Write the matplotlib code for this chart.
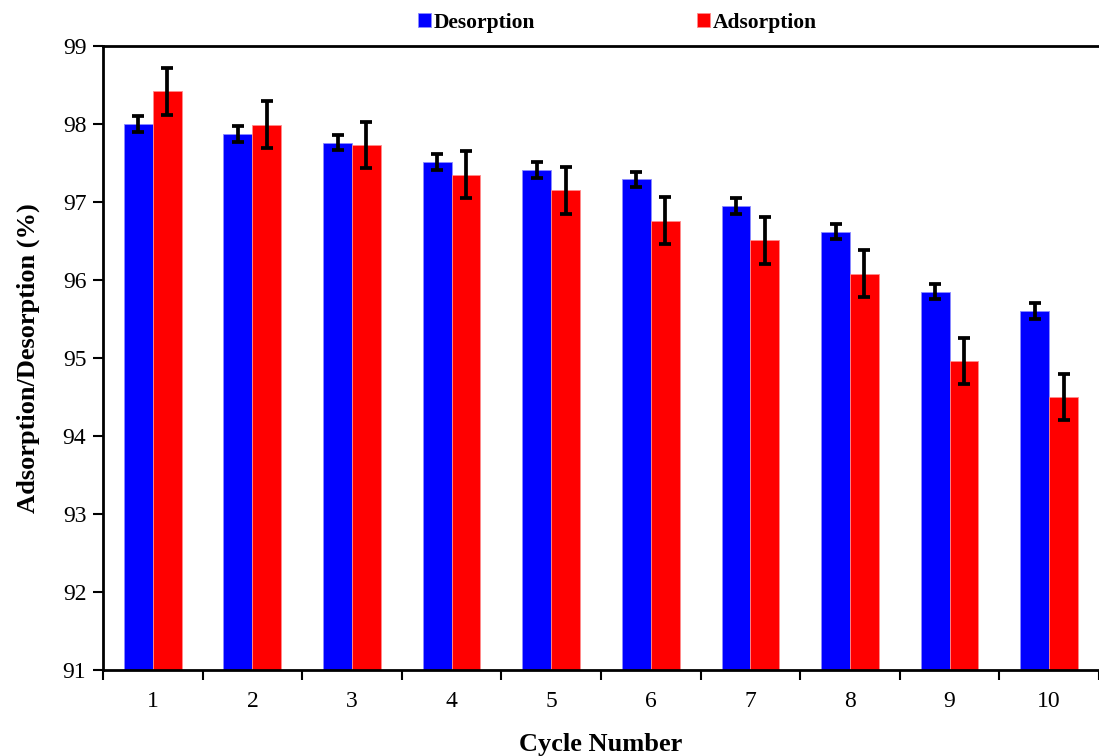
import matplotlib.pyplot as plt
import numpy as np

cycles = ["1", "2", "3", "4", "5", "6", "7", "8", "9", "10"]
desorption = [98.00, 97.87, 97.76, 97.51, 97.41, 97.29, 96.95, 96.62, 95.85, 95.60]
adsorption = [98.42, 97.99, 97.73, 97.35, 97.15, 96.76, 96.51, 96.08, 94.96, 94.50]
desorption_err = [0.1, 0.1, 0.1, 0.1, 0.1, 0.1, 0.1, 0.1, 0.1, 0.1]
adsorption_err = [0.3, 0.3, 0.3, 0.3, 0.3, 0.3, 0.3, 0.3, 0.29, 0.29]

plt.rcParams["font.family"] = ["Liberation Serif", "DejaVu Serif"]

fig = plt.figure(figsize=(10.99, 7.56), dpi=100)
ax = fig.add_axes([0.0937, 0.1138, 0.9063, 0.8254])

x = np.arange(1, len(cycles) + 1)
w = 0.29
err_kw = dict(ecolor="black", elinewidth=2.7, capsize=4.5, capthick=2.7)
ax.bar(x - w / 2, desorption, w, color="#0000ff", edgecolor="#8c8cff",
       linewidth=0.6, yerr=desorption_err, error_kw=err_kw, label="Desorption", zorder=2)
ax.bar(x + w / 2, adsorption, w, color="#ff0000", edgecolor="#ff8c8c",
       linewidth=0.6, yerr=adsorption_err, error_kw=err_kw, label="Adsorption", zorder=2)

ax.set_ylim(91, 99)
ax.set_xlim(0.5, len(cycles) + 0.5)
ax.set_yticks(np.arange(91, 100, 1))
ax.set_xticks(x)
ax.set_xticklabels(cycles)
ax.set_xticks(np.arange(0.5, len(cycles) + 1, 1), minor=True)
ax.tick_params(axis="x", which="major", length=0, pad=15, labelsize=17)
ax.tick_params(axis="x", which="minor", length=7, width=1.5, direction="out")
ax.tick_params(axis="y", length=7, width=1.5, direction="out", labelsize=17, pad=5)

for s in ["left", "bottom", "top"]:
    ax.spines[s].set_linewidth(2)
ax.spines["right"].set_visible(False)

ax.set_xlabel("Cycle Number", fontsize=19, fontweight="bold", labelpad=15)
ax.set_ylabel("Adsorption/Desorption (%)", fontsize=19, fontweight="bold", labelpad=16)

fig.legend(loc="center", bbox_to_anchor=(0.562, 0.970), ncol=2, frameon=False,
           handlelength=0.6, handleheight=0.6, handletextpad=0.15, columnspacing=7.5,
           prop={"weight": "bold", "size": 15.5})

fig.savefig("out.png", dpi=100)
